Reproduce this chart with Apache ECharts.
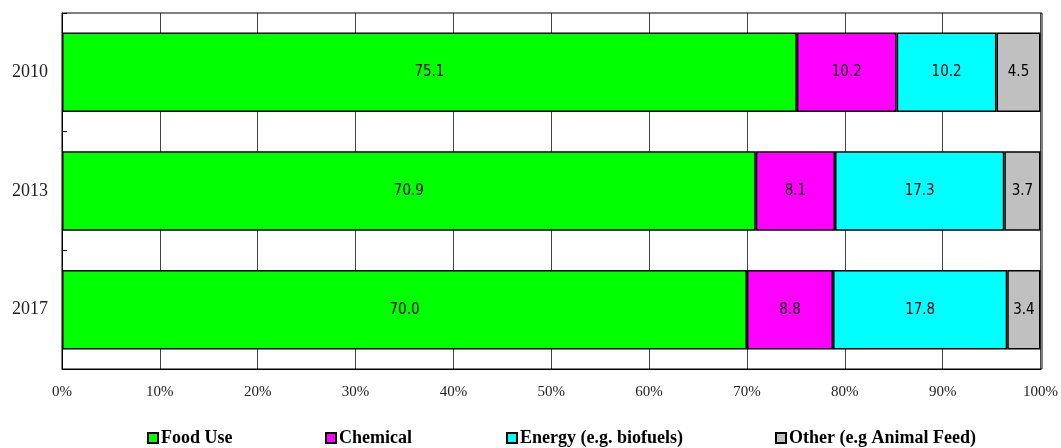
<!DOCTYPE html>
<html><head><meta charset="utf-8">
<script src="https://cdn.jsdelivr.net/npm/echarts@6/dist/echarts.min.js"></script>
<style>html,body{margin:0;padding:0;background:#fff}#c{width:1061px;height:448px}</style>
</head><body><div id="c"></div>
<script>
const categories = ['2010', '2013', '2017'];
const seriesNames = ['Food Use', 'Chemical', 'Energy (e.g. biofuels)', 'Other (e.g Animal Feed)'];
const foodUse = [75.1, 70.9, 70.0];
const chemical = [10.2, 8.1, 8.8];
const energy = [10.2, 17.3, 17.8];
const other = [4.5, 3.7, 3.4];
const xTicks = [0, 10, 20, 30, 40, 50, 60, 70, 80, 90, 100];

const colors = ['#00FF00', '#FF00FF', '#00FFFF', '#C0C0C0'];
const values = [foodUse, chemical, energy, other];
const legendLefts = [147, 325, 506, 775];

const chart = echarts.init(document.getElementById('c'));
chart.setOption({
  animation: false,
  grid: { left: 62, right: 19, top: 13, bottom: 79 },
  xAxis: {
    type: 'value', min: 0, max: 100, interval: 10,
    axisLine: { show: true, lineStyle: { color: '#000', width: 1 } },
    axisTick: { show: false },
    axisLabel: { formatter: v => xTicks.includes(v) ? v + '%' : '', color: '#222', fontFamily: 'Liberation Serif', fontSize: 15, margin: 16 },
    splitLine: { show: true, lineStyle: { color: '#444', width: 1 } }
  },
  yAxis: {
    type: 'category', data: categories, inverse: true,
    axisLine: { show: true, lineStyle: { color: '#000', width: 1 } },
    axisTick: { show: true, inside: true, length: 5, lineStyle: { color: '#000' } },
    axisLabel: { color: '#222', fontFamily: 'Liberation Serif', fontSize: 18, margin: 14 },
    splitLine: { show: false }
  },
  legend: seriesNames.map((n, i) => ({
    data: [n], left: legendLefts[i], top: 429, padding: 0, itemWidth: 10, itemHeight: 10, itemGap: 4,
    icon: 'rect',
    textStyle: { fontFamily: 'Liberation Serif', fontWeight: 'bold', fontSize: 18, color: '#000', padding: [0, 0, 0, -2] }
  })),
  series: seriesNames.map((n, i) => ({
    name: n, type: 'bar', stack: 'total', data: values[i], barCategoryGap: '33%',
    itemStyle: { color: colors[i], borderColor: '#000', borderWidth: 1.5 },
    label: { show: true, position: 'inside', formatter: p => p.value.toFixed(1), color: '#000', fontFamily: 'Liberation Sans Narrow, DejaVu Sans Condensed, Roboto', fontSize: 15 }
  }))
});
chart.setOption({
  graphic: [{
    type: 'rect', shape: { x: 62, y: 13, width: 980, height: 356 }, silent: true, z: 100,
    style: { fill: null, stroke: '#000', lineWidth: 1 }
  }]
});
</script></body></html>
